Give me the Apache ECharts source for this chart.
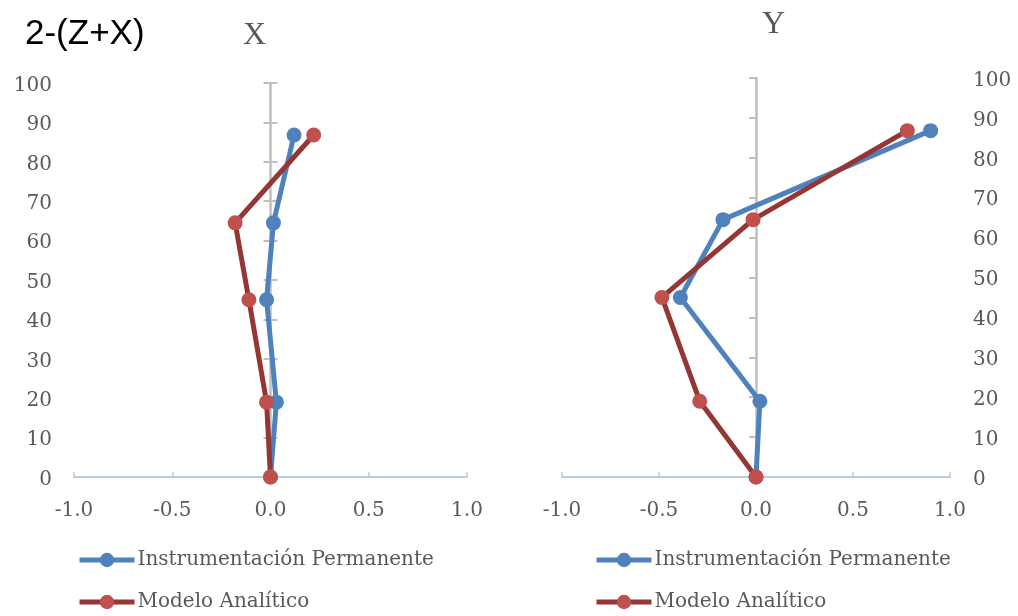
<!DOCTYPE html>
<html>
<head>
<meta charset="utf-8">
<script src="https://cdn.jsdelivr.net/npm/echarts@6/dist/echarts.min.js"></script>
<style>html,body{margin:0;padding:0;background:#fff}#c{width:1018px;height:616px}</style>
</head>
<body>
<div id="c"></div>
<script>
// Data
var heights = [0, 19, 45, 64.5, 86.8];
var xInstr = [0.0, 0.03, -0.02, 0.015, 0.12];
var xModel = [0.0, -0.02, -0.11, -0.18, 0.22];
var yInstr = [0.0, 0.02, -0.39, -0.17, 0.90];
var yModel = [0.0, -0.29, -0.485, -0.015, 0.78];
var yTicks = [0, 100, 10];
var xTicks = [-1, 1, 0.5];
var seriesNames = ['Instrumentación Permanente', 'Modelo Analítico'];

function pairs(xs, hs) { return xs.map(function (v, i) { return [v, hs[i]]; }); }

var FONT = 'DejaVu Serif';
var TXT = '#595959';
var BLUE = '#4f81bd', BLUE_L = '#4f81bd';
var RED = '#c0504d', RED_L = '#943634';

function xAxisCfg(gi) {
  return {
    type: 'value', gridIndex: gi, min: xTicks[0], max: xTicks[1], interval: xTicks[2],
    axisLine: { onZero: false, lineStyle: { color: '#b9cde5', width: 2 } },
    axisTick: { show: true, inside: true, length: 5, lineStyle: { color: '#b9cde5', width: 1.5 } },
    axisLabel: { color: TXT, fontFamily: FONT, fontSize: 20, margin: 24, formatter: function (v) { return v.toFixed(1); } },
    splitLine: { show: false }
  };
}
function yLabelAxis(gi, pos, margin) {
  return {
    type: 'value', gridIndex: gi, min: yTicks[0], max: yTicks[1], interval: yTicks[2], position: pos,
    axisLine: { show: false, onZero: false }, axisTick: { show: false },
    axisLabel: {
      margin: margin,
      formatter: function (v) { return '{a|' + v + '}'; },
      rich: { a: { color: TXT, fontFamily: FONT, fontSize: 20, padding: [5, 0, 0, 0] } }
    },
    splitLine: { show: false }
  };
}
function yZeroAxis(gi, xi, inside, showLine) {
  return {
    type: 'value', gridIndex: gi, min: yTicks[0], max: yTicks[1], interval: yTicks[2],
    axisLine: { show: showLine, onZero: true, onZeroAxisIndex: xi, lineStyle: { color: '#bfbfbf', width: 2.5 } },
    axisTick: { show: true, inside: inside, length: 7, lineStyle: { color: '#bfbfbf', width: 2 } },
    axisLabel: { show: false }, splitLine: { show: false }
  };
}
function lineSeries(name, xi, yi, data, lc, mc) {
  return {
    name: name, type: 'line', xAxisIndex: xi, yAxisIndex: yi, data: data,
    symbol: 'circle', symbolSize: 15, showSymbol: true,
    lineStyle: { color: lc, width: 5 }, itemStyle: { color: mc },
    emphasis: { disabled: true }, z: 3
  };
}
function legendCfg(name, left, top) {
  return {
    data: [name], left: left, top: top, orient: 'horizontal', padding: 0,
    itemWidth: 55, itemHeight: 18, itemGap: 5,
    lineStyle: { width: 5 },
    textStyle: { color: TXT, fontFamily: FONT, fontSize: 20, padding: [0, 0, 0, -2] },
    selectedMode: false
  };
}

var chart = echarts.init(document.getElementById('c'), null, { renderer: 'canvas' });
chart.setOption({
  animation: false,
  backgroundColor: '#fff',
  title: [
    { text: '2-(Z+X)', left: 20, top: 12, textStyle: { fontFamily: 'Liberation Sans', fontSize: 35, fontWeight: 'normal', color: '#000' } },
    { text: 'X', left: 238, top: 15, textStyle: { fontFamily: 'Liberation Serif', fontSize: 32, fontWeight: 'normal', color: TXT } },
    { text: 'Y', left: 757, top: 4, textStyle: { fontFamily: 'Liberation Serif', fontSize: 32, fontWeight: 'normal', color: TXT } }
  ],
  grid: [
    { left: 74, top: 83, width: 393, height: 394 },
    { left: 562, top: 78, width: 388, height: 399 }
  ],
  xAxis: [xAxisCfg(0), xAxisCfg(1)],
  yAxis: [
    yLabelAxis(0, 'left', 22), yZeroAxis(0, 0, false, true), yZeroAxis(0, 0, true, false),
    yLabelAxis(1, 'right', 23), yZeroAxis(1, 1, false, true), yZeroAxis(1, 1, true, false)
  ],
  legend: [
    legendCfg(seriesNames[0], 77, 550),
    legendCfg(seriesNames[1], 77, 592),
    legendCfg(seriesNames[0], 594, 550),
    legendCfg(seriesNames[1], 594, 592)
  ],
  series: [
    lineSeries(seriesNames[0], 0, 0, pairs(xInstr, heights), BLUE_L, BLUE),
    lineSeries(seriesNames[1], 0, 0, pairs(xModel, heights), RED_L, RED),
    lineSeries(seriesNames[0], 1, 3, pairs(yInstr, heights), BLUE_L, BLUE),
    lineSeries(seriesNames[1], 1, 3, pairs(yModel, heights), RED_L, RED)
  ]
});
</script>
</body>
</html>
